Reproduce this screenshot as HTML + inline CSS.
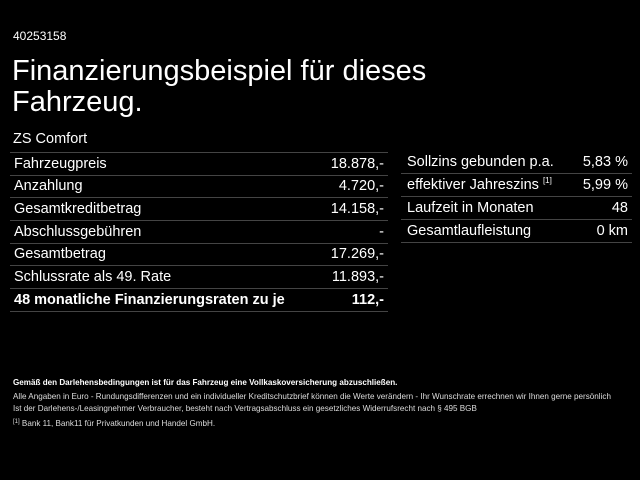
<!DOCTYPE html>
<html><head><meta charset="utf-8"><style>
body{margin:0;width:640px;height:480px;background:#000;color:#fff;font-family:"Liberation Sans",Arial,sans-serif;position:relative;overflow:hidden}
.a{position:absolute;white-space:nowrap}
.r{position:absolute;height:22px;border-bottom:1px solid #444;font-size:14.5px;line-height:22px}
.r span{position:absolute;right:4px;top:0}
.s{font-size:8.1px;color:#ddd}
sup{line-height:0;vertical-align:6px}
</style></head><body>
<div class="a" style="left:13px;top:29px;font-size:12px">40253158</div>
<div class="a" style="left:12px;top:56px;font-size:29px;line-height:31px">Finanzierungsbeispiel für dieses<br>Fahrzeug.</div>
<div class="a" style="left:13px;top:131px;font-size:14.5px">ZS Comfort</div>
<div class="r" style="left:10px;width:378px;top:152px;border-top:1px solid #444;height:22px"><div style="padding-left:4px">Fahrzeugpreis</div><span>18.878,-</span></div>
<div class="r" style="left:10px;width:378px;top:175px"><div style="padding-left:4px">Anzahlung</div><span>4.720,-</span></div>
<div class="r" style="left:10px;width:378px;top:198px"><div style="padding-left:4px">Gesamtkreditbetrag</div><span>14.158,-</span></div>
<div class="r" style="left:10px;width:378px;top:221px"><div style="padding-left:4px">Abschlussgebühren</div><span>-</span></div>
<div class="r" style="left:10px;width:378px;top:243px"><div style="padding-left:4px">Gesamtbetrag</div><span>17.269,-</span></div>
<div class="r" style="left:10px;width:378px;top:266px"><div style="padding-left:4px">Schlussrate als 49. Rate</div><span>11.893,-</span></div>
<div class="r" style="left:10px;width:378px;top:289px;font-weight:bold"><div style="padding-left:4px">48 monatliche Finanzierungsraten zu je</div><span>112,-</span></div>
<div class="r" style="left:401px;width:231px;top:151px"><div style="padding-left:6px">Sollzins gebunden p.a.</div><span>5,83 %</span></div>
<div class="r" style="left:401px;width:231px;top:174px"><div style="padding-left:6px">effektiver Jahreszins <sup style="font-size:8px">[1]</sup></div><span>5,99 %</span></div>
<div class="r" style="left:401px;width:231px;top:197px"><div style="padding-left:6px">Laufzeit in Monaten</div><span>48</span></div>
<div class="r" style="left:401px;width:231px;top:220px"><div style="padding-left:6px">Gesamtlaufleistung</div><span>0 km</span></div>
<div class="a s" style="left:13px;top:378px;font-weight:bold;color:#fff">Gemäß den Darlehensbedingungen ist für das Fahrzeug eine Vollkaskoversicherung abzuschließen.</div>
<div class="a s" style="left:13px;top:392px">Alle Angaben in Euro - Rundungsdifferenzen und ein individueller Kreditschutzbrief können die Werte verändern - Ihr Wunschrate errechnen wir Ihnen gerne persönlich</div>
<div class="a s" style="left:13px;top:404px">Ist der Darlehens-/Leasingnehmer Verbraucher, besteht nach Vertragsabschluss ein gesetzliches Widerrufsrecht nach § 495 BGB</div>
<div class="a s" style="left:13px;top:419px"><sup style="font-size:6px;vertical-align:3px">[1]</sup> Bank 11, Bank11 für Privatkunden und Handel GmbH.</div>
</body></html>
